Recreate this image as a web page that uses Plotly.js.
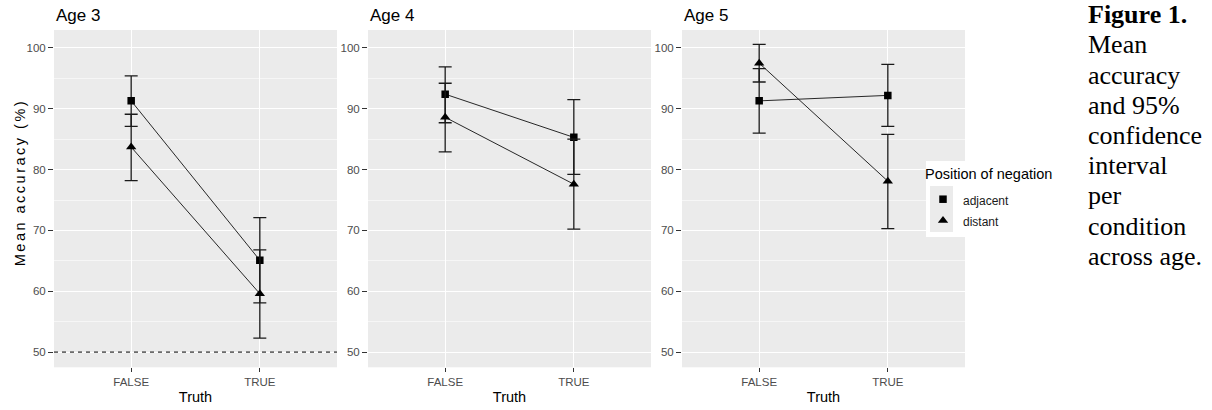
<!DOCTYPE html>
<html><head><meta charset="utf-8">
<script src="https://cdn.plot.ly/plotly-3.0.1.min.js"></script>
<style>html,body{margin:0;padding:0;background:#fff;} #chart{width:1212px;height:410px;}</style>
</head><body><div id="chart"></div>
<script>
// ---- data ----
const truth = ['FALSE', 'TRUE'];
const ages = ['Age 3', 'Age 4', 'Age 5'];
const positions = ['adjacent', 'distant'];
// mean accuracy (%) per age panel, values for [FALSE, TRUE]
const adjacentMean  = [[91.3, 65.1], [92.4, 85.3], [91.3, 92.2]];
const adjacentLower = [[87.1, 58.1], [87.7, 79.2], [86.0, 87.1]];
const adjacentUpper = [[95.4, 72.1], [96.9, 91.5], [96.6, 97.3]];
const distantMean   = [[83.7, 59.6], [88.6, 77.6], [97.5, 78.1]];
const distantLower  = [[78.2, 52.3], [82.9, 70.2], [94.4, 70.3]];
const distantUpper  = [[89.1, 66.8], [94.2, 85.0], [100.6, 85.8]];
const chanceLevel = 50;
const yTitle = 'Mean accuracy (%)';
const xTitle = 'Truth';
const legendTitle = 'Position of negation';
const captionLines = ['Figure 1.', 'Mean', 'accuracy', 'and 95%', 'confidence', 'interval', 'per', 'condition', 'across age.'];

// ---- layout helpers ----
const W = 1212, H = 410;
const fx = p => p / W;
const fy = p => 1 - p / H;
const SANS = 'Liberation Sans, Arial, sans-serif';
const SERIF = 'Liberation Serif, Times New Roman, serif';
const panelLeft = [54, 368, 682];
const panelWidth = 283;
const plotTop = 30, plotBottom = 367.3;

const series = [
  {name: positions[0], mean: adjacentMean, lo: adjacentLower, hi: adjacentUpper, symbol: 'square', size: 7.5},
  {name: positions[1], mean: distantMean, lo: distantLower, hi: distantUpper, symbol: 'triangle-up', size: 9}
];

const traces = [];
ages.forEach((age, p) => {
  const xa = p === 0 ? 'x' : 'x' + (p + 1);
  const ya = p === 0 ? 'y' : 'y' + (p + 1);
  series.forEach(s => {
    traces.push({
      type: 'scatter', mode: 'lines', x: truth, y: s.mean[p], xaxis: xa, yaxis: ya,
      line: {color: '#111', width: 0.9}, showlegend: false, hoverinfo: 'skip'
    });
  });
  series.forEach(s => {
    traces.push({
      type: 'scatter', mode: 'markers', x: truth, y: s.mean[p], xaxis: xa, yaxis: ya,
      name: '<span style="font-size:12px">' + s.name + '</span>',
      legendgroup: s.name, showlegend: p === 2,
      marker: {symbol: s.symbol, size: s.size, color: '#000'},
      error_y: {
        type: 'data', symmetric: false,
        array: s.hi[p].map((v, i) => v - s.mean[p][i]),
        arrayminus: s.mean[p].map((v, i) => v - s.lo[p][i]),
        color: '#1a1a1a', thickness: 1.3, width: 6.5
      }
    });
  });
});

const layout = {
  width: W, height: H,
  margin: {l: 0, r: 0, t: 0, b: 0},
  paper_bgcolor: '#ffffff', plot_bgcolor: '#EBEBEB',
  font: {family: SANS, color: '#000'},
  showlegend: true,
  legend: {
    x: fx(923), y: fy(155), xanchor: 'left', yanchor: 'top',
    bgcolor: 'rgba(0,0,0,0)', borderwidth: 0,
    font: {family: SANS, size: 14, color: '#1a1a1a'},
    title: {text: '<span style="font-size:14.5px;baseline-shift:5px">' + legendTitle + '</span>', font: {family: SANS, size: 22, color: '#000'}},
    itemwidth: 30, tracegroupgap: 0
  },
  shapes: [
    {type: 'rect', xref: 'paper', yref: 'paper', x0: fx(926), x1: fx(1062), y0: fy(161), y1: fy(237),
     fillcolor: '#ffffff', line: {width: 0}, layer: 'above'},
    {type: 'rect', xref: 'paper', yref: 'paper', x0: fx(930), x1: fx(953), y0: fy(186), y1: fy(232),
     fillcolor: '#EBEBEB', line: {width: 0}, layer: 'above'},
    {type: 'line', xref: 'x domain', yref: 'y', x0: 0, x1: 1, y0: chanceLevel, y1: chanceLevel,
     line: {color: '#000', width: 1, dash: '4px,4px'}, layer: 'above'}
  ],
  annotations: []
};

ages.forEach((age, p) => {
  const n = p === 0 ? '' : String(p + 1);
  layout['xaxis' + n] = {
    type: 'category', categoryorder: 'array', categoryarray: truth,
    domain: [fx(panelLeft[p]), fx(panelLeft[p] + panelWidth)], anchor: 'y' + n,
    range: [-0.6, 1.6], showgrid: true, gridcolor: '#ffffff', gridwidth: 1.1,
    zeroline: false, showline: false, ticks: 'outside', ticklen: 4, tickwidth: 1, tickcolor: '#333333',
    tickfont: {family: SANS, size: 11.5, color: '#4D4D4D'},
    title: {text: xTitle, font: {family: SANS, size: 14.5, color: '#000'}, standoff: 4},
    fixedrange: true
  };
  layout['yaxis' + n] = {
    domain: [fy(plotBottom), fy(plotTop)], anchor: 'x' + n,
    range: [47.5, 102.95], tickmode: 'linear', tick0: 50, dtick: 10,
    showgrid: true, gridcolor: '#ffffff', gridwidth: 1.1,
    minor: {dtick: 5, tick0: 50, showgrid: true, gridcolor: '#ffffff', gridwidth: 0.55, ticks: ''},
    zeroline: false, showline: false, ticks: 'outside', ticklen: 5, tickwidth: 1, tickcolor: '#333333',
    tickfont: {family: SANS, size: 11.5, color: '#4D4D4D'},
    fixedrange: true
  };
});

// y-axis title (index 0)
layout.annotations.push({
  xref: 'paper', yref: 'paper', x: fx(20), y: fy(183), xanchor: 'center', yanchor: 'middle',
  text: yTitle, textangle: -90, showarrow: false, font: {family: SANS, size: 14.5, color: '#000'}
});
// panel titles
ages.forEach((age, p) => {
  const n = p === 0 ? '' : String(p + 1);
  layout.annotations.push({
    xref: 'x' + n + ' domain', yref: 'paper', x: 0, y: fy(15.8), xanchor: 'left', yanchor: 'middle',
    text: age, showarrow: false, font: {family: SANS, size: 17, color: '#000'}
  });
});
// caption
captionLines.forEach((line, i) => {
  const baseline = 23.5 + 30.2 * i;
  layout.annotations.push({
    xref: 'paper', yref: 'paper', x: fx(1086), y: fy(baseline - 8.8), xanchor: 'left', yanchor: 'middle',
    text: i === 0 ? '<b>' + line + '</b>' : line, showarrow: false,
    font: {family: SERIF, size: 26, color: '#000'}
  });
});

Plotly.newPlot('chart', traces, layout, {displayModeBar: false, staticPlot: true}).then(() => {
  const t = document.querySelector('g.annotation[data-index="0"] text');
  if (t) t.style.letterSpacing = '2.5px';
});
</script>
</body></html>
